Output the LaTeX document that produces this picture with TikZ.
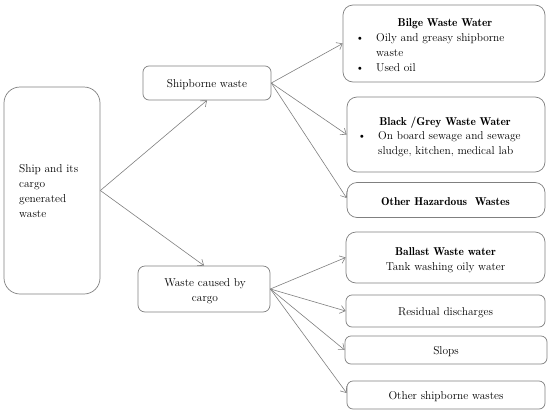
\documentclass[tikz,border=0pt]{standalone}
\usetikzlibrary{arrows.meta}
\begin{document}
\begin{tikzpicture}[x=1pt,y=-1pt,
  box/.style={draw=black!50, line width=0.7pt, rounded corners=#1, inner sep=0pt},
  box/.default=10pt,
  txt/.style={inner sep=0pt, font=\fontsize{11.4}{15}\selectfont, text=black},
  btxt/.style={txt, font=\fontsize{11.4}{15}\fontseries{b}\selectfont},
  conn/.style={draw=black!50, line width=0.6pt, -{Straight Barb[length=5pt,width=8pt]}}
]
\useasboundingbox (0,0) rectangle (550,413);
\fill[white] (0,0) rectangle (550,413);

% boxes
\node[box=16pt, minimum width=96pt, minimum height=207pt] (src) at (52,190.5) {};
\node[box=6pt, minimum width=128pt, minimum height=34pt] (ship) at (207,83) {};
\node[box=7pt, minimum width=132pt, minimum height=46pt] (cargo) at (204,289) {};
\node[box, minimum width=202pt, minimum height=77pt] (bilge) at (444,43.5) {};
\node[box, minimum width=198pt, minimum height=75pt] (black) at (446,134.5) {};
\node[box, minimum width=198pt, minimum height=35pt] (haz) at (446,200) {};
\node[box, minimum width=199pt, minimum height=51pt] (ballast) at (445.5,257.5) {};
\node[box=6pt, minimum width=199pt, minimum height=32pt] (resid) at (445.5,311) {};
\node[box=6pt, minimum width=202pt, minimum height=28pt] (slops) at (446,350) {};
\node[box=6pt, minimum width=198pt, minimum height=28pt] (other) at (446,395) {};

% texts
\node[txt, anchor=base west] (s1) at (19,172) {Ship and its};
\node[txt, anchor=base west] (s2) at (19,187) {cargo};
\node[txt, anchor=base west] (s3) at (19,202) {generated};
\node[txt, anchor=base west] (s4) at (19,217) {waste};

\node[txt, anchor=base] (t1) at (207,87) {Shipborne waste};
\node[txt, anchor=base] (c1) at (205,286) {Waste caused by};
\node[txt, anchor=base] (c2) at (205,301) {cargo};

\node[btxt, anchor=base] (bt) at (445,26) {Bilge Waste Water};
\node[txt, anchor=base] (bb1) at (360,41) {\textbullet};
\node[txt, anchor=base west] (bl1) at (376,41) {Oily and greasy shipborne};
\node[txt, anchor=base west] (bl2) at (376,56) {waste};
\node[txt, anchor=base] (bb2) at (360,71) {\textbullet};
\node[txt, anchor=base west] (bl3) at (376,71) {Used oil};

\node[btxt, anchor=base] (kt) at (445,125) {Black /Grey Waste Water};
\node[txt, anchor=base] (kb1) at (362,139) {\textbullet};
\node[txt, anchor=base west] (kl1) at (378,139) {On board sewage and sewage};
\node[txt, anchor=base west] (kl2) at (378,154) {sludge, kitchen, medical lab};

\node[btxt, anchor=base] (ht) at (445.5,205) {Other Hazardous\ \ Wastes};

\node[btxt, anchor=base] (at) at (445.5,255) {Ballast Waste water};
\node[txt, anchor=base] (al) at (445.5,270) {Tank washing oily water};

\node[txt, anchor=base] (rt) at (445.5,315) {Residual discharges};
\node[txt, anchor=base] (st) at (446,354) {Slops};
\node[txt, anchor=base] (ot) at (446,399) {Other shipborne wastes};

% connectors
\draw[conn] (src.east) -- (ship.south);
\draw[conn] (src.east) -- (cargo.north);
\draw[conn] (ship.east) -- (bilge.west);
\draw[conn] (ship.east) -- (black.west);
\draw[conn] (ship.east) -- ([yshift=2pt]haz.west);
\draw[conn] (cargo.east) -- (ballast.west);
\draw[conn] (cargo.east) -- (resid.west);
\draw[conn] (cargo.east) -- (slops.west);
\draw[conn] (cargo.east) -- ([yshift=2pt]other.west);
\end{tikzpicture}
\end{document}
